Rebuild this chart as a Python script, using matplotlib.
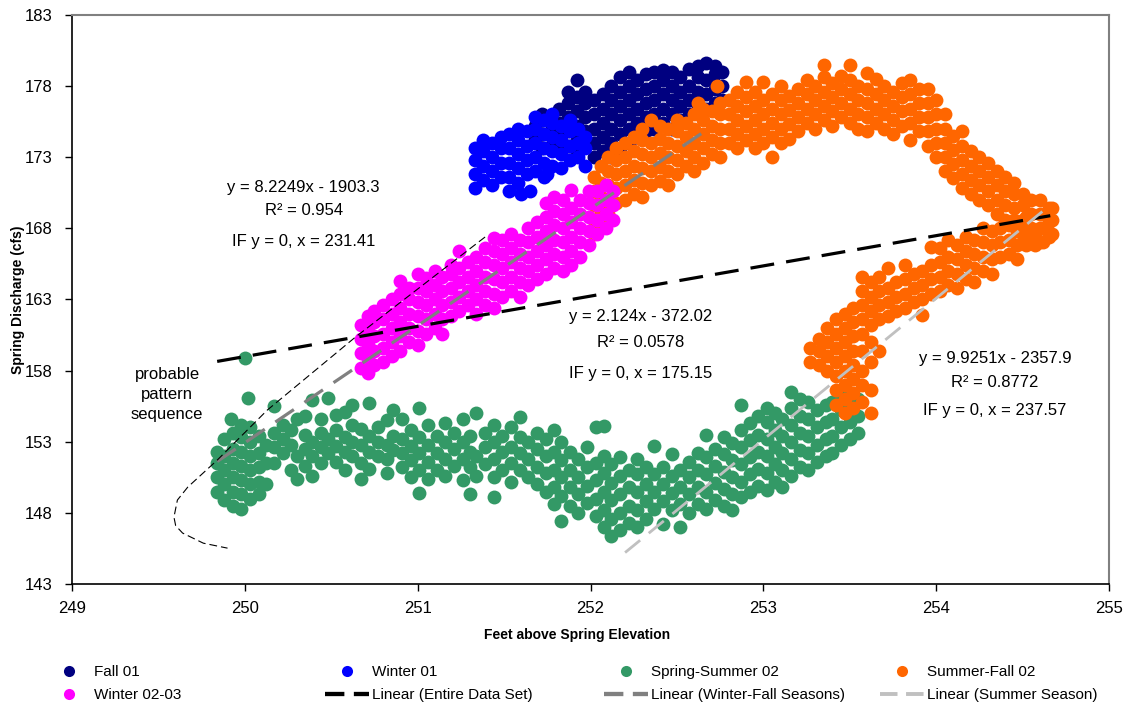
import numpy as np
import matplotlib.pyplot as plt
from matplotlib.lines import Line2D

plt.rcParams['font.family'] = ['Liberation Sans', 'DejaVu Sans']

# daily readings grouped by elevation column: (feet above spring, [discharge values])
fall01 = [
    (251.68, [174.2, 175.2]),
    (251.72, [173.6, 174.6, 175.6, 176.0]),
    (251.77, [173.8, 174.8, 175.8]),
    (251.82, [173.4, 174.4, 175.4, 176.4]),
    (251.87, [173.8, 174.8, 175.8, 176.8, 177.6]),
    (251.92, [173.2, 174.2, 175.2, 176.2, 177.2, 178.4]),
    (251.97, [173.8, 174.8, 175.8, 176.8, 177.6]),
    (252.02, [173.0, 174.0, 175.0, 176.0, 177.0]),
    (252.07, [173.4, 174.4, 175.4, 176.4, 177.4]),
    (252.12, [173.0, 174.0, 175.0, 176.0, 177.0, 178.0]),
    (252.17, [173.6, 174.6, 175.6, 176.6, 177.6, 178.6]),
    (252.22, [174.0, 175.0, 176.0, 177.0, 178.0, 179.0]),
    (252.27, [174.4, 175.4, 176.4, 177.4, 178.4]),
    (252.32, [174.8, 175.8, 176.8, 177.8, 178.8]),
    (252.37, [175.0, 176.0, 177.0, 178.0, 179.0]),
    (252.42, [175.4, 176.4, 177.4, 178.4, 179.1]),
    (252.47, [175.0, 176.0, 177.0, 178.0, 179.0]),
    (252.52, [175.6, 176.6, 177.6, 178.6]),
    (252.57, [176.0, 177.0, 178.0, 179.2]),
    (252.62, [176.6, 177.6, 178.6, 179.4]),
    (252.67, [176.4, 177.4, 178.4, 179.6]),
    (252.72, [176.8, 177.8, 178.8, 179.4]),
    (252.76, [177.0, 178.0, 179.0]),
]

winter01 = [
    (251.33, [170.8, 171.8, 172.8, 173.6]),
    (251.38, [171.4, 172.4, 173.4, 174.2]),
    (251.43, [171.0, 172.0, 173.0, 174.0]),
    (251.48, [171.6, 172.6, 173.6, 174.4]),
    (251.53, [170.6, 171.6, 172.6, 173.6, 174.6]),
    (251.58, [171.2, 172.2, 173.2, 174.2, 175.0]),
    (251.60, [170.4]),
    (251.63, [171.8, 172.8, 173.8, 174.8]),
    (251.65, [170.6]),
    (251.68, [172.0, 173.0, 174.0, 175.0, 175.8]),
    (251.73, [171.6, 172.6, 173.6, 174.6, 175.6]),
    (251.75, [171.8]),
    (251.78, [172.4, 173.4, 174.4, 175.4, 176.0]),
    (251.83, [172.2, 173.2, 174.2, 175.2]),
    (251.88, [172.8, 173.8, 174.8, 175.6]),
    (251.93, [173.0, 174.0, 175.0]),
    (251.97, [172.4, 173.6, 174.4]),
]

spring_summer02 = [
    (249.84, [149.5, 150.5, 151.5, 152.3]),
    (249.88, [148.9, 150.0, 151.0, 152.0, 153.2]),
    (249.92, [154.6]),
    (249.93, [148.5, 149.5, 150.5, 151.5, 152.5, 153.6]),
    (249.98, [148.3, 149.3, 150.3, 151.3, 152.3, 153.3, 154.2]),
    (250.00, [158.9]),
    (250.02, [156.1]),
    (250.03, [149.0, 150.0, 151.0, 152.0, 153.0, 154.0]),
    (250.08, [149.3, 150.2, 151.2, 152.2, 153.4]),
    (250.12, [150.0, 151.5, 152.8]),
    (250.17, [151.5, 152.6, 153.6, 155.5]),
    (250.22, [152.2, 153.2, 154.2]),
    (250.27, [151.0, 152.8, 153.8]),
    (250.30, [150.4, 152.0, 154.6]),
    (250.35, [151.3, 152.5, 153.5, 154.8]),
    (250.39, [150.6, 152.0, 153.0, 155.9]),
    (250.44, [151.5, 152.6, 153.6, 154.6]),
    (250.48, [152.2, 153.2, 156.1]),
    (250.53, [151.6, 152.7, 153.8, 154.9]),
    (250.58, [151.0, 152.3, 153.3, 155.1]),
    (250.62, [152.0, 153.0, 154.2, 155.6]),
    (250.67, [150.4, 151.5, 152.8, 153.9]),
    (250.72, [151.1, 152.3, 153.4, 155.7]),
    (250.77, [152.0, 153.0, 154.0]),
    (250.82, [150.8, 151.8, 152.8, 154.5]),
    (250.86, [152.4, 153.4, 155.2]),
    (250.91, [151.2, 152.2, 153.2, 154.6]),
    (250.96, [150.5, 151.7, 152.7, 153.8]),
    (251.01, [149.4, 151.0, 152.2, 153.3, 155.4]),
    (251.06, [150.4, 151.6, 152.8, 154.2]),
    (251.11, [151.0, 152.2, 153.4]),
    (251.16, [150.6, 151.8, 153.0, 154.3]),
    (251.21, [151.3, 152.5, 153.6]),
    (251.26, [150.3, 151.8, 153.0, 154.6]),
    (251.30, [149.3, 151.2, 152.3, 153.4]),
    (251.34, [150.6, 152.0, 155.0]),
    (251.39, [151.4, 152.6, 153.6]),
    (251.44, [149.1, 150.5, 151.8, 153.0, 154.2]),
    (251.49, [151.0, 152.3, 153.4]),
    (251.54, [150.2, 151.5, 152.6, 154.0]),
    (251.59, [151.0, 152.2, 153.3, 154.7]),
    (251.64, [150.5, 151.8, 153.0]),
    (251.69, [150.0, 151.2, 152.5, 153.6]),
    (251.74, [149.5, 150.8, 152.0, 153.2]),
    (251.79, [148.6, 149.8, 151.0, 152.3, 153.8]),
    (251.83, [147.4, 149.2, 150.5, 151.7, 153.0]),
    (251.88, [148.5, 149.8, 151.0, 152.3]),
    (251.93, [148.0, 149.3, 150.5, 151.8]),
    (251.98, [148.7, 149.9, 151.2, 152.6]),
    (252.03, [147.8, 149.0, 150.3, 151.5, 154.0]),
    (252.08, [147.0, 148.2, 149.5, 150.8, 152.0, 154.1]),
    (252.12, [146.4, 147.6, 148.9, 150.1, 151.4]),
    (252.17, [146.8, 148.0, 149.3, 150.6, 151.9]),
    (252.22, [147.3, 148.5, 149.8, 151.0]),
    (252.27, [147.0, 148.2, 149.5, 150.7, 151.8]),
    (252.32, [147.6, 148.8, 150.0, 151.2]),
    (252.37, [148.3, 149.5, 150.7, 152.7]),
    (252.42, [147.2, 148.8, 150.0, 151.2]),
    (252.47, [148.2, 149.4, 150.6, 152.1]),
    (252.52, [147.0, 148.6, 149.8, 151.0]),
    (252.57, [148.0, 149.3, 150.5, 151.6]),
    (252.62, [148.6, 149.8, 151.0, 152.2]),
    (252.67, [148.3, 149.5, 150.7, 151.9, 153.5]),
    (252.72, [148.9, 150.1, 151.3, 152.5]),
    (252.77, [148.5, 149.7, 150.9, 152.1, 153.3]),
    (252.82, [148.2, 149.3, 150.5, 151.7, 152.9]),
    (252.87, [149.1, 150.2, 151.4, 152.6, 153.8, 155.6]),
    (252.92, [149.5, 150.7, 151.9, 153.1, 154.3]),
    (252.97, [149.9, 151.1, 152.3, 153.5, 154.8]),
    (253.02, [149.6, 150.8, 152.0, 153.2, 154.4, 155.4]),
    (253.07, [150.2, 151.4, 152.6, 153.8, 155.0]),
    (253.11, [149.8, 151.0, 152.2, 153.4, 154.6]),
    (253.16, [150.6, 151.8, 153.0, 154.2, 155.4, 156.5]),
    (253.21, [151.2, 152.4, 153.6, 154.8, 156.0]),
    (253.26, [151.0, 152.2, 153.4, 154.6, 155.8]),
    (253.31, [151.6, 152.8, 154.0, 155.2]),
    (253.36, [152.0, 153.2, 154.4, 155.6]),
    (253.40, [152.2, 153.4, 154.6, 155.8]),
    (253.45, [152.8, 154.0, 155.2, 156.2]),
    (253.50, [153.2, 154.4, 155.6]),
    (253.55, [153.6, 154.8, 156.0]),
]

summer_fall02 = [
    # rising limb
    (252.02, [167.6, 168.6, 169.6, 170.6, 171.6]),
    (252.06, [168.2, 169.2, 170.2, 171.2, 172.4]),
    (252.10, [169.0, 170.0, 171.0, 172.0, 173.0]),
    (252.15, [169.8, 170.8, 171.8, 172.8, 173.6]),
    (252.20, [170.0, 171.0, 172.0, 173.0, 174.0]),
    (252.25, [170.4, 171.4, 172.4, 173.4, 174.4]),
    (252.30, [170.2, 171.2, 172.2, 173.2, 174.2, 175.0]),
    (252.35, [171.0, 172.0, 173.0, 174.0, 175.6]),
    (252.40, [171.3, 172.3, 173.3, 174.3, 175.2]),
    (252.45, [171.0, 172.0, 173.0, 174.0, 175.0]),
    (252.50, [171.8, 172.8, 173.8, 174.8, 175.6]),
    (252.55, [172.4, 173.4, 174.4, 175.4]),
    (252.60, [172.0, 173.0, 174.0, 175.0, 176.0]),
    (252.62, [176.8]),
    (252.65, [172.6, 173.6, 174.6, 175.6, 176.4]),
    (252.70, [173.2, 174.2, 175.2, 176.2]),
    (252.73, [178.0]),
    (252.75, [173.0, 174.0, 175.0, 176.0, 176.8]),
    # summer plateau
    (252.80, [174.0, 175.0, 176.0, 177.0]),
    (252.85, [173.6, 174.6, 175.6, 176.6, 177.6]),
    (252.90, [174.2, 175.2, 176.2, 177.2, 178.3]),
    (252.95, [173.6, 174.6, 175.6, 176.6, 177.6]),
    (253.00, [174.0, 175.0, 176.0, 177.0, 178.3]),
    (253.05, [173.0, 174.4, 175.4, 176.4, 177.4]),
    (253.10, [174.0, 175.0, 176.0, 177.0, 178.0]),
    (253.15, [174.3, 175.3, 176.3, 177.3]),
    (253.20, [174.8, 175.8, 176.8, 177.8]),
    (253.25, [175.4, 176.4, 177.4, 178.4]),
    (253.30, [175.0, 176.0, 177.0, 178.0]),
    (253.35, [175.6, 176.6, 177.6, 178.6, 179.5]),
    (253.40, [175.2, 176.2, 177.2, 178.2]),
    (253.45, [175.8, 176.8, 177.8, 178.7]),
    (253.50, [175.4, 176.4, 177.4, 178.4, 179.5]),
    (253.55, [175.0, 176.0, 177.0, 178.0]),
    (253.60, [174.8, 175.8, 176.8, 177.8, 178.9]),
    (253.65, [175.4, 176.4, 177.4, 178.5]),
    (253.70, [175.0, 176.0, 177.0, 178.0]),
    (253.75, [174.6, 175.6, 176.6, 177.6]),
    (253.80, [175.2, 176.2, 177.2, 178.2]),
    (253.85, [174.2, 175.4, 176.4, 177.4, 178.4]),
    (253.90, [174.8, 175.8, 176.8, 177.8]),
    (253.95, [173.8, 174.8, 175.8, 176.8, 177.8]),
    (254.00, [173.0, 174.0, 175.0, 176.0, 177.0]),
    (254.05, [172.0, 173.0, 174.0, 175.0, 176.0]),
    (254.10, [171.5, 172.5, 173.5, 174.5]),
    (254.15, [170.8, 171.8, 172.8, 173.8, 174.8]),
    (254.20, [170.4, 171.4, 172.4, 173.4]),
    (254.25, [170.0, 171.0, 172.0, 173.0]),
    (254.30, [169.6, 170.6, 171.6, 172.6]),
    (254.35, [169.0, 170.0, 171.0, 172.0]),
    (254.40, [168.6, 169.6, 170.6, 171.6]),
    (254.45, [168.6, 169.4, 170.4, 171.2]),
    (254.50, [167.6, 168.6, 169.6, 170.4]),
    (254.55, [167.0, 168.0, 169.0, 170.0]),
    (254.60, [167.0, 168.0, 169.0, 170.0]),
    (254.65, [167.4, 168.4, 169.4]),
    # fall recession
    (254.67, [167.6, 168.6, 169.4]),
    (254.62, [167.0, 168.0]),
    (254.57, [166.8, 167.6]),
    (254.52, [166.8, 167.8, 168.8]),
    (254.47, [165.8, 166.8, 167.8]),
    (254.42, [166.2, 167.2, 168.2]),
    (254.37, [166.0, 167.0, 168.0]),
    (254.32, [164.8, 165.8, 166.8, 167.8]),
    (254.27, [165.0, 166.0, 167.0, 168.0]),
    (254.22, [164.2, 165.2, 166.2, 167.2]),
    (254.17, [164.4, 165.4, 166.4, 167.4]),
    (254.12, [163.8, 164.8, 165.8, 166.8]),
    (254.07, [164.0, 165.0, 166.0, 167.2]),
    (254.02, [163.6, 164.6, 165.6, 166.6]),
    (253.97, [163.4, 164.4, 165.4, 166.7]),
    (253.92, [161.9, 163.0, 164.0, 165.0]),
    (253.87, [162.8, 163.8, 164.8]),
    (253.82, [162.4, 163.4, 164.4, 165.4]),
    (253.77, [162.2, 163.2, 164.2]),
    (253.72, [161.8, 162.8, 163.8, 165.2]),
    (253.67, [159.4, 161.6, 162.6, 163.6, 164.6]),
    (253.62, [155.0, 156.6, 158.6, 160.0, 161.2, 162.2, 163.2, 164.2]),
    (253.57, [155.8, 157.0, 158.0, 159.4, 160.6, 161.6, 162.6, 163.6, 164.6]),
    (253.52, [155.4, 156.4, 157.4, 158.4, 159.4, 160.4, 161.4, 162.4]),
    (253.47, [155.0, 156.0, 157.0, 158.0, 159.0, 160.0, 161.0, 162.0]),
    (253.42, [155.6, 156.6, 157.6, 158.6, 159.6, 160.6, 161.6]),
    (253.37, [158.0, 159.0, 160.0, 161.0]),
    (253.32, [158.4, 159.4, 160.2]),
    (253.27, [158.6, 159.6]),
]

winter02_03 = [
    (250.67, [158.2, 159.2, 160.2, 161.2]),
    (250.71, [157.8, 158.8, 159.8, 160.8, 161.8]),
    (250.75, [158.4, 159.4, 160.4, 161.4, 162.2]),
    (250.80, [158.6, 159.6, 160.6, 161.6, 162.6]),
    (250.85, [159.0, 160.0, 161.0, 162.0, 163.0]),
    (250.90, [159.4, 160.4, 161.4, 162.4, 163.4, 164.3]),
    (250.95, [160.0, 161.0, 162.0, 163.0, 163.8]),
    (251.00, [159.8, 160.8, 161.8, 162.8, 163.8, 164.8]),
    (251.05, [160.6, 161.6, 162.6, 163.6, 164.5]),
    (251.10, [161.0, 162.0, 163.0, 164.0, 165.0]),
    (251.14, [160.6, 161.6, 162.6, 163.6, 164.6]),
    (251.19, [161.8, 162.8, 163.8, 164.8, 165.4]),
    (251.24, [162.2, 163.2, 164.2, 165.2, 166.4]),
    (251.29, [162.6, 163.6, 164.6, 165.6]),
    (251.34, [162.0, 163.0, 164.0, 165.0, 166.0]),
    (251.39, [162.6, 163.6, 164.6, 165.6, 166.6]),
    (251.44, [162.4, 163.4, 164.4, 165.4, 166.4, 167.3]),
    (251.49, [163.2, 164.2, 165.2, 166.2, 167.2]),
    (251.54, [163.6, 164.6, 165.6, 166.6, 167.6]),
    (251.59, [163.2, 164.2, 165.2, 166.2, 167.2]),
    (251.64, [164.0, 165.0, 166.0, 167.0, 168.0]),
    (251.69, [164.4, 165.4, 166.4, 167.4, 168.4]),
    (251.74, [164.8, 165.8, 166.8, 167.8, 168.8, 169.8]),
    (251.79, [165.2, 166.2, 167.2, 168.2, 169.2, 170.2]),
    (251.84, [165.0, 166.0, 167.0, 168.0, 169.0, 170.0]),
    (251.89, [165.4, 166.4, 167.4, 168.4, 169.4, 170.7]),
    (251.94, [166.0, 167.0, 168.0, 169.0, 170.0]),
    (251.99, [166.8, 167.8, 168.8, 169.8, 170.6]),
    (252.04, [167.6, 168.6, 169.6, 170.6]),
    (252.09, [168.0, 169.0, 170.0, 171.0]),
    (252.13, [168.6, 169.6, 170.6]),
]

series_names = ['Fall 01', 'Winter 01', 'Spring-Summer 02', 'Summer-Fall 02', 'Winter 02-03']
series_colors = ['#000080', '#0000FF', '#339966', '#FF6600', '#FF00FF']

# linear trendlines: slope, intercept, x extent
fit_names = ['Linear (Entire Data Set)', 'Linear (Winter-Fall Seasons)', 'Linear (Summer Season)']
fit_slopes = [2.124, 8.2249, 9.9251]
fit_intercepts = [-372.02, -1903.3, -2357.9]
fit_ranges = [(249.84, 254.66), (249.84, 252.69), (252.20, 254.66)]
fit_colors = ['black', '#808080', '#C0C0C0']
fit_r2 = ['0.0578', '0.954', '0.8772']
fit_x0 = ['175.15', '231.41', '237.57']

# hand-drawn "probable pattern sequence" path
pattern_x = [251.39, 250.64, 250.13, 249.84, 249.67, 249.61, 249.59, 249.60, 249.64, 249.76, 249.90]
pattern_y = [167.38, 160.35, 155.22, 151.70, 149.81, 148.90, 147.70, 147.10, 146.58, 145.87, 145.52]


def expand(cols):
    xs, ys = [], []
    for x, yvals in cols:
        xs += [x] * len(yvals)
        ys += yvals
    return xs, ys


fig = plt.figure(figsize=(11.28, 7.13), dpi=100)
ax = fig.add_axes([0.0638, 0.1809, 0.9194, 0.7985])

all_series = [fall01, winter01, spring_summer02, summer_fall02, winter02_03]
for cols, color in zip(all_series, series_colors):
    x, y = expand(cols)
    ax.scatter(x, y, s=100, color=color, linewidths=0, zorder=2)

fit_styles = [dict(lw=2.3, dashes=(7.5, 3.8)),
              dict(lw=2.3, dashes=(7.0, 4.0)),
              dict(lw=2.0, dashes=(7.0, 4.0))]
for slope, icpt, (x0, x1), color, st in zip(fit_slopes, fit_intercepts, fit_ranges, fit_colors, fit_styles):
    xs = np.array([x0, x1])
    ax.plot(xs, slope * xs + icpt, color=color, zorder=3, **st)

ax.plot(pattern_x, pattern_y, color='black', lw=0.8, dashes=(7, 3.6), zorder=3)

# trendline equations
eq_pos = [(252.29, [161.83, 160.0, 157.82]),
          (250.34, [170.89, 169.21, 167.03]),
          (254.34, [158.86, 157.17, 155.2])]
for i, (xt, yts) in enumerate(eq_pos):
    b = fit_intercepts[i]
    sign = '-' if b < 0 else '+'
    lines = [f'y = {fit_slopes[i]}x {sign} {abs(b)}',
             f'R\u00b2 = {fit_r2[i]}',
             f'IF y = 0, x = {fit_x0[i]}']
    for txt, yt in zip(lines, yts):
        ax.text(xt, yt, txt, ha='center', va='center', fontsize=12, zorder=4)

ax.text(249.55, 156.3, 'probable\npattern\nsequence', ha='center', va='center',
        fontsize=12, linespacing=1.4)

ax.set_xlim(249, 255)
ax.set_ylim(143, 183)
ax.set_xticks(np.arange(249, 256, 1))
ax.set_yticks(np.arange(143, 184, 5))
ax.tick_params(direction='out', length=5, width=1, labelsize=12, pad=7)
ax.tick_params(axis='y', pad=9)
for side in ['left', 'bottom']:
    ax.spines[side].set_color('black')
    ax.spines[side].set_linewidth(1.2)
for side in ['top', 'right']:
    ax.spines[side].set_color('#808080')
    ax.spines[side].set_linewidth(1.5)

ax.set_xlabel('Feet above Spring Elevation', fontsize=10, fontweight='bold')
ax.set_ylabel('Spring Discharge (cfs)', fontsize=10, fontweight='bold')
ax.xaxis.set_label_coords(0.487, -0.077)
ax.yaxis.set_label_coords(-0.045, 0.5)

# legend: four columns of two rows each
marker_handles = [Line2D([], [], ls='none', marker='o', markersize=8, markeredgewidth=0, color=c)
                  for c in series_colors]
line_handles = [Line2D([], [], color=c, lw=st['lw'] + 0.8, dashes=(4.5, 2.2))
                for c, st in zip(fit_colors, fit_styles)]
columns = [
    ([marker_handles[0], marker_handles[4]], [series_names[0], series_names[4]], 47),
    ([marker_handles[1], line_handles[0]], [series_names[1], fit_names[0]], 325),
    ([marker_handles[2], line_handles[1]], [series_names[2], fit_names[1]], 604),
    ([marker_handles[3], line_handles[2]], [series_names[3], fit_names[2]], 880),
]
for handles, labels, px in columns:
    fig.legend(handles, labels, loc='upper left', bbox_to_anchor=(px / 1128, 1 - 665 / 713),
               frameon=False, fontsize=11, handlelength=2.9, handletextpad=0.15,
               labelspacing=0.6, borderpad=0, borderaxespad=0)

fig.savefig('out.png', dpi=100)
